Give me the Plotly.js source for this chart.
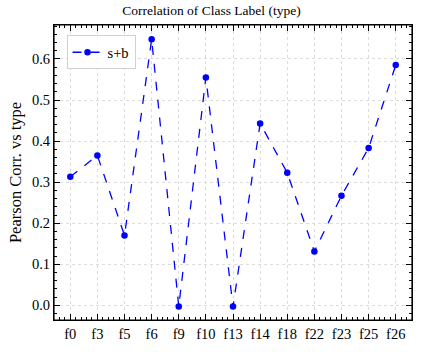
<!DOCTYPE html>
<html>
<head>
<meta charset="utf-8">
<script src="https://cdn.plot.ly/plotly-3.0.1.min.js"></script>
<style>html,body{margin:0;padding:0;background:#fff;}</style>
</head>
<body>
<div id="chart" style="width:423px;height:352px;"></div>
<div id="done" style="position:absolute;top:0;left:0;width:1px;height:1px;font-size:1px;color:#fff;"></div>
<script>
const features = ["f0","f3","f5","f6","f9","f10","f13","f14","f18","f22","f23","f25","f26"];
const corrValues = [0.313,0.365,0.170,0.648,-0.003,0.555,-0.003,0.443,0.323,0.131,0.267,0.383,0.585];
const seriesName = "s+b";
const yTicks = [0.0,0.1,0.2,0.3,0.4,0.5,0.6];

const xIdx = features.map((_, i) => i);
const font = "Liberation Serif, Times New Roman, serif";

const trace = {
  x: xIdx, y: corrValues, name: seriesName, type: 'scatter', mode: 'lines+markers',
  line: {color: '#0000ff', dash: 'dash', width: 1.3},
  marker: {color: '#0000ff', size: 6.5}
};

function axisCommon() {
  return {
    showline: true, linecolor: '#000000', linewidth: 1.2, mirror: 'allticks',
    ticks: 'inside', ticklen: 6, tickwidth: 1, tickcolor: '#000000',
    showgrid: true, gridcolor: '#dcdcdc', griddash: 'dot', gridwidth: 0.8,
    zeroline: false, tickfont: {family: font, size: 14.5, color: '#000000'}
  };
}

const layout = {
  width: 423, height: 352,
  margin: {l: 54, r: 11, t: 25, b: 32},
  font: {family: font, color: '#000000', size: 14.5},
  title: {text: 'Correlation of Class Label (type)', font: {family: font, size: 13.5, color: '#000000'}, y: 0.985, yanchor: 'top'},
  showlegend: true,
  legend: {x: 0.035, y: 0.965, xanchor: 'left', yanchor: 'top', bgcolor: 'rgba(255,255,255,0.8)', bordercolor: '#d0d0d0', borderwidth: 1, font: {family: font, size: 14.5, color: '#000000'}},
  shapes: [{type: 'rect', xref: 'paper', yref: 'paper', x0: 0, x1: 1, y0: 0, y1: 1, line: {color: '#000000', width: 1.2}, layer: 'above'}],
  xaxis: Object.assign(axisCommon(), {
    range: [-0.6, 12.6], tickmode: 'array', tickvals: xIdx, ticktext: features,
    minor: {dtick: 0.2, tick0: 0, ticks: 'inside', ticklen: 3, tickwidth: 1, tickcolor: '#000000', showgrid: false}
  }),
  yaxis: Object.assign(axisCommon(), {
    range: [-0.0356, 0.6826], tickmode: 'array', tickvals: yTicks, ticktext: yTicks.map(v => v.toFixed(1)),
    title: {text: 'Pearson Corr. vs type', font: {family: font, size: 16.5, color: '#000000'}, standoff: 6},
    minor: {dtick: 0.02, tick0: 0, ticks: 'inside', ticklen: 3, tickwidth: 1, tickcolor: '#000000', showgrid: false}
  })
};

Plotly.newPlot('chart', [trace], layout, {displayModeBar: false}).then(function (gd) {
  document.getElementById('done').textContent = '.';
});
</script>
</body>
</html>
